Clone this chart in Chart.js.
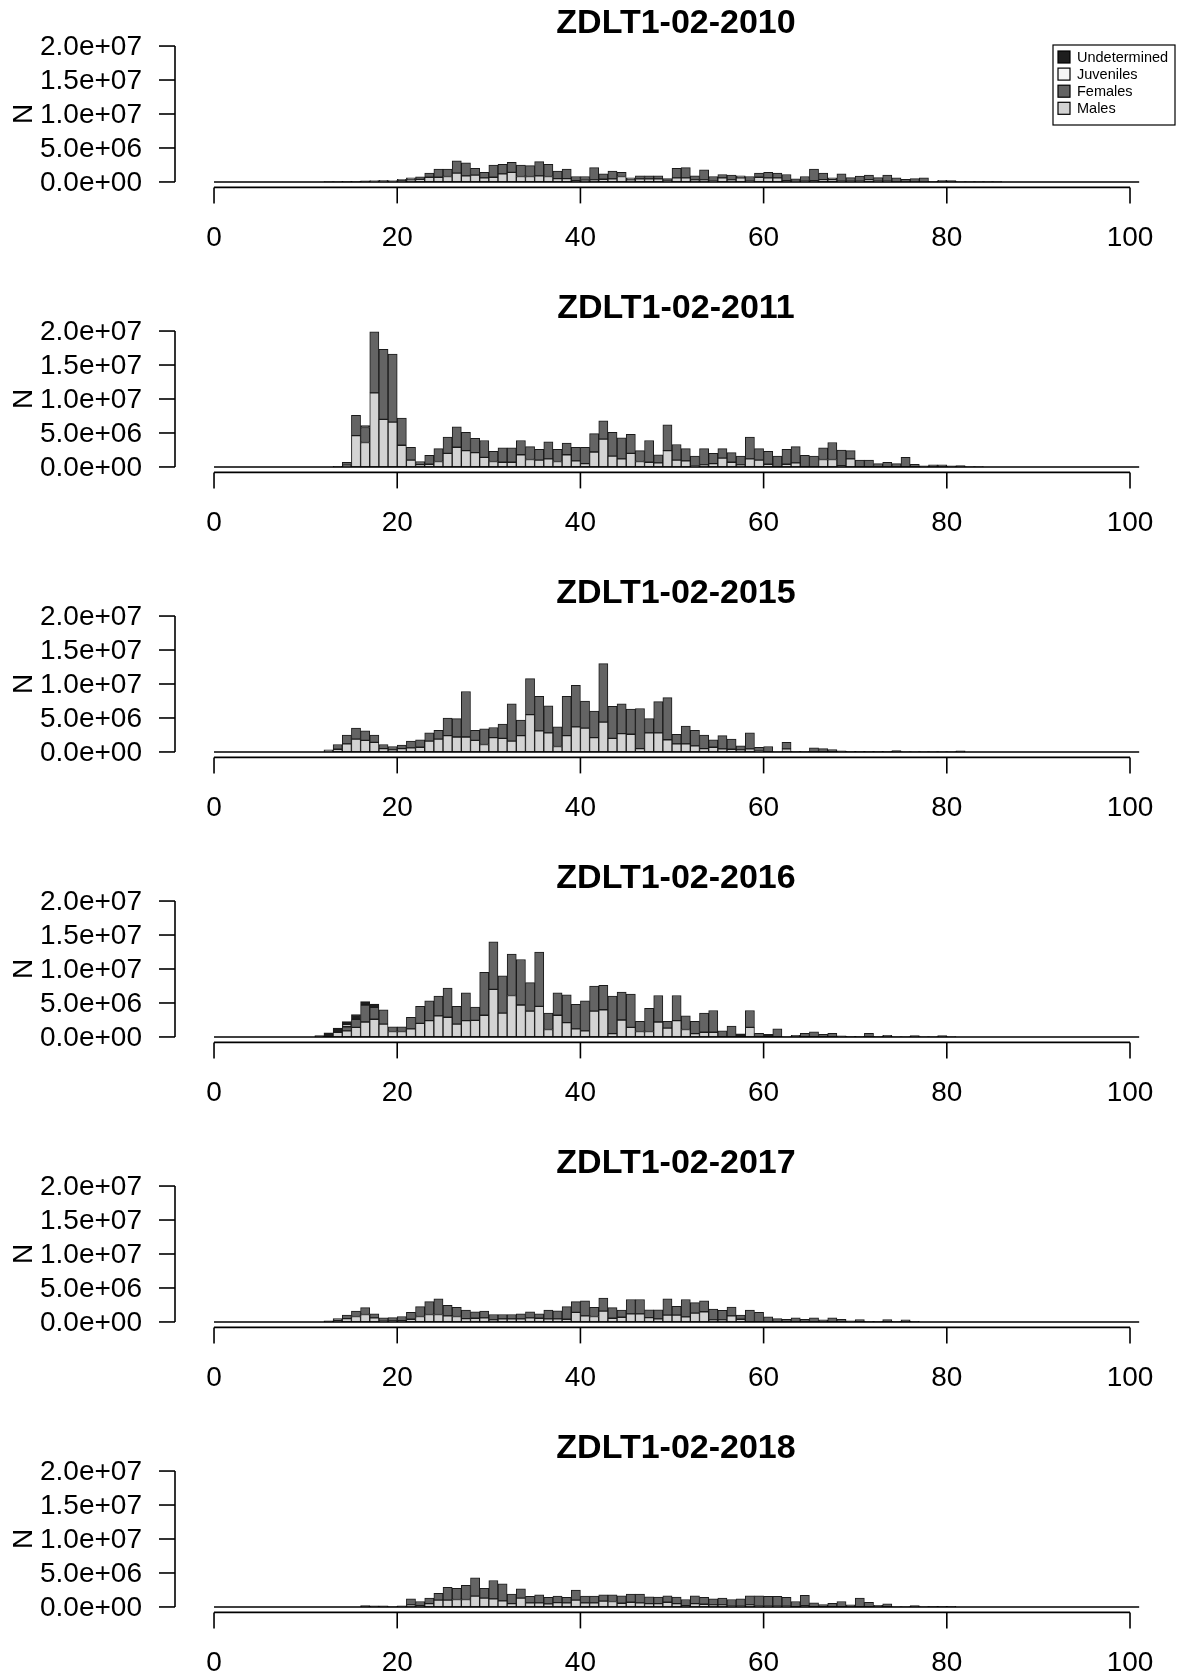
<!DOCTYPE html>
<html>
<head>
<meta charset="utf-8">
<script src="https://cdn.jsdelivr.net/npm/chart.js@4.4.1/dist/chart.umd.min.js"></script>
<style>
    html, body { margin: 0; padding: 0; background: #fff; overflow: hidden; }
    #wrap { width: 1177px; height: 1680px; position: relative; overflow: hidden; }
    .panel { width: 1177px; height: 285px; }
    canvas { display: block; }
</style>
</head>
<body>
<div id="wrap"></div>
<script>
// === length-frequency panels (one stacked barplot per survey year) ===

const FIRST_BIN = 11;   // length class of the first value in each array
const N_BINS = 101;     // classes 0..100, as in the original barplot
const UNIT = 1e6;       // arrays are given in millions

const xTicks = [0, 20, 40, 60, 80, 100];
const yTicks = [0, 5e6, 1e7, 1.5e7, 2e7];
const seriesNames = ['Males', 'Females', 'Juveniles', 'Undetermined'];
const seriesColors = ['#d3d3d3', '#646464', '#f6f6f6', '#1e1e1e'];

// --- 2010 ---
const males2010 = [0,0,0,0.05,0.05,0.05,0.1,0.1,0.1,0.2, 0.3,0.4,0.7,0.7,0.8,1.3,0.9,1.0,0.6,0.7,
    1.2,1.4,0.8,0.8,0.9,0.8,0.5,0.5,0.2,0.25, 0.3,0.4,0.45,0.8,0.3,0.45,0.45,0.45,0.1,0.6,
    0.6,0.3,0.3,0.1,0.6,0.3,0.6,0.1,0.7,0.6, 0.6,0.2,0.1,0.1,0.2,0.35,0.35,0.1,0.1,0.1,
    0.35,0.1,0.1,0.05,0.05,0.05,0.05,0,0.05,0, 0,0,0,0,0];
const females2010 = [0,0.05,0.05,0.05,0.05,0.1,0.1,0.15,0.1,0.2, 0.3,0.35,0.6,1.2,1.1,1.8,1.9,1.0,0.8,1.8,
    1.4,1.5,1.7,1.6,2.1,1.8,1.1,1.4,0.6,0.55, 1.8,0.8,1.15,0.6,0.3,0.45,0.45,0.45,0.4,1.4,
    1.5,0.6,1.5,0.7,0.5,0.7,0.3,0.7,0.6,0.8, 0.7,0.9,0.35,0.7,1.7,0.95,0.25,1.1,0.55,0.75,
    0.65,0.55,0.9,0.55,0.35,0.45,0.55,0.1,0.2,0.2, 0.05,0.05,0.05,0.05,0.05];

// --- 2011 ---
const males2011 = [0,0,0.05,0.25,4.6,3.6,10.9,7.0,6.6,3.2, 1.0,0.35,0.4,0.8,2.0,2.9,2.4,2.1,1.4,0.8,
    0.7,0.7,1.8,1.1,1.0,1.2,0.8,1.8,0.9,0.5, 2.2,4.1,1.6,1.2,2.0,0.8,0.7,0.6,2.4,1.0,
    0.9,0.1,0.3,0.5,1.3,0.7,0.3,1.2,1.0,0.4, 0,0.4,0.6,0,0,1.1,1.1,0.2,1.2,0,
    0,0,0,0,0,0,0,0,0,0, 0,0,0,0,0];
const females2011 = [0,0,0.05,0.45,3.0,2.2,9.0,10.3,10.0,4.0, 1.9,0.45,1.3,1.9,2.4,3.0,2.7,2.1,2.5,1.5,
    2.1,2.1,2.1,1.9,1.6,2.5,1.8,1.7,2.0,2.4, 2.7,2.7,3.5,3.1,2.8,1.6,3.2,1.2,3.8,2.3,
    1.8,1.5,2.4,1.5,1.4,1.4,1.3,3.2,1.7,1.9, 1.6,2.2,2.4,1.7,1.6,1.7,2.5,2.3,1.2,1.0,
    1.0,0.5,0.7,0.5,1.4,0.4,0.15,0.3,0.3,0.15, 0.2,0.05,0.05,0,0];
const undetermined2011 = [0,0,0,0,0,0.3];

// --- 2015 ---
const males2015 = [0,0.1,0.4,1.2,1.9,1.7,1.4,0.5,0.3,0.5, 0.6,0.7,1.6,1.9,2.4,2.2,2.2,1.7,1.1,2.1,
    2.0,1.6,2.4,5.5,3.1,2.8,0.8,2.4,3.7,3.5, 2.1,4.4,2.0,2.7,2.6,0.5,2.8,2.8,1.8,1.2,
    1.2,0.9,0.5,0.7,0.45,0.4,0.3,0.45,0.1,0, 0,0.45,0,0,0,0,0,0,0,0,
    0,0,0,0,0,0,0,0,0,0, 0,0,0,0,0];
const females2015 = [0,0.2,0.7,1.3,1.6,1.4,1.1,0.6,0.5,0.5, 1.0,1.1,1.2,1.3,2.6,2.7,6.7,1.5,2.3,1.5,
    2.1,5.5,2.3,5.3,5.1,4.0,2.9,5.8,6.1,4.0, 3.9,8.6,4.7,4.4,3.7,5.9,2.1,4.6,6.2,1.4,
    2.6,2.3,2.0,1.1,1.95,1.5,0.6,2.35,0.6,0.8, 0.05,0.95,0.1,0.1,0.6,0.5,0.35,0.15,0.1,0.1,
    0.1,0.1,0.1,0.2,0.05,0.05,0.05,0.05,0.05,0.05, 0.15,0,0,0,0];

// --- 2016 ---
const males2016 = [0,0,0.7,0.9,1.4,2.2,2.6,1.9,0.8,0.8, 1.2,2.0,2.4,3.1,2.9,1.9,2.4,2.45,3.2,7.0,
    3.5,6.1,4.7,3.8,4.5,1.1,3.2,2.1,1.2,0.9, 3.8,4.0,0.5,2.5,1.4,0.8,0.8,2.2,1.3,2.4,
    1.1,0.5,0.7,0.7,0,0,0,1.4,0,0, 0,0,0,0,0,0,0,0,0,0,
    0,0,0,0,0,0,0,0,0,0, 0,0,0,0,0];
const females2016 = [0.2,0,0,0.6,1.2,2.5,1.75,2.1,0.7,0.7, 1.7,2.5,2.9,2.9,4.3,2.6,4.1,1.95,6.3,7.0,
    5.5,6.1,6.7,4.2,8.0,2.4,3.3,4.1,3.6,4.4, 3.7,3.6,5.5,4.1,4.9,1.5,3.4,3.9,1.0,3.7,
    2.0,1.8,2.8,3.2,0.9,1.6,0,2.5,0.55,0, 1.2,0.05,0.25,0.55,0.75,0.4,0.55,0.15,0.1,0.1,
    0.55,0.1,0.25,0.05,0.05,0.2,0.05,0.05,0.2,0.05, 0,0,0,0,0];
const juveniles2016 = [0,0,0,0.3];
const undetermined2016 = [0,0.6,0.6,0.45,0.7,0.5,0.5,0,0,0, 0,0,0,0,0,0,0,0,0,0,
    0,0,0,0,0,0,0,0,0,0, 0,0,0,0,0,0,0,0,0,0,
    0,0,0,0,0,0,0.45,0,0,0.4];

// --- 2017 ---
const males2017 = [0,0,0.2,0.5,0.8,1.1,0.6,0.1,0.15,0.2, 0.4,0.8,1.1,1.1,0.9,0.8,0.5,0.55,0.6,0.3,
    0.45,0.45,0.45,0.6,0.55,0.45,0.45,0.4,1.4,0.9, 0.8,1.6,0.55,0.7,1.2,1.2,0.65,0.45,1.0,1.0,
    0.75,1.3,1.5,0.3,0.3,0.9,0.4,0,0,0, 0,0,0,0,0,0,0,0,0,0,
    0,0,0,0,0,0,0,0,0,0, 0,0,0,0,0];
const females2017 = [0,0.15,0.3,0.5,0.8,1.0,0.6,0.5,0.5,0.6, 1.0,1.45,1.9,2.3,1.55,1.35,1.25,0.95,1.0,0.8,
    0.65,0.65,0.75,0.9,0.65,1.3,1.2,1.85,1.6,2.2, 1.35,1.9,1.55,1.05,2.1,2.1,1.15,1.35,2.4,1.3,
    2.55,1.55,1.6,1.6,1.4,1.3,0.6,1.75,1.4,0.75, 0.5,0.4,0.6,0.4,0.6,0.3,0.6,0.4,0.15,0.35,
    0.1,0.1,0.35,0.1,0.3,0.1,0,0,0,0, 0,0,0,0,0];

// --- 2018 ---
const males2018 = [0,0,0,0,0,0,0,0,0,0, 0.3,0.2,0.5,1.0,1.0,1.1,1.1,1.6,1.3,1.2,
    0.9,0.5,1.3,0.6,0.6,0.45,0.65,0.6,1.0,0.6, 0.6,0.85,0.8,0.55,0.7,0.6,0.5,0.5,0.7,0.5,
    0.2,0.5,0.4,0.3,0.3,0.1,0.1,0.3,0.1,0.1, 0.1,0.1,0,0.2,0,0,0,0,0,0,
    0,0,0,0,0,0,0,0,0,0, 0,0,0,0,0];
const females2018 = [0,0,0,0,0,0.2,0.15,0.15,0.05,0.15, 0.9,0.6,0.8,1.0,1.9,1.65,2.1,2.7,1.45,2.7,
    2.5,1.4,1.35,0.95,1.2,0.95,0.95,0.8,1.5,1.0, 1.0,0.95,1.0,1.1,1.2,1.3,1.0,0.95,0.95,0.95,
    0.9,1.15,1.0,0.9,1.0,1.0,1.1,1.35,1.55,1.45, 1.45,1.3,0.8,1.5,0.6,0.35,0.55,0.8,0.3,1.3,
    0.7,0.25,0.45,0.05,0.05,0.2,0.05,0.1,0.1,0.1, 0,0,0,0,0];

const panels = [
    { title: 'ZDLT1-02-2010', series: [males2010, females2010, [], []], legend: true },
    { title: 'ZDLT1-02-2011', series: [males2011, females2011, [], undetermined2011] },
    { title: 'ZDLT1-02-2015', series: [males2015, females2015, [], []] },
    { title: 'ZDLT1-02-2016', series: [males2016, females2016, juveniles2016, undetermined2016] },
    { title: 'ZDLT1-02-2017', series: [males2017, females2017, [], []] },
    { title: 'ZDLT1-02-2018', series: [males2018, females2018, [], []] },
];

const FONT = "'Liberation Sans', Arial, sans-serif";

// R style number label, e.g. 1.5e+07
function sciLabel(v) {
    if (v === 0) return '0.0e+00';
    const e = Math.floor(Math.log10(v) + 1e-9);
    const m = v / Math.pow(10, e);
    return m.toFixed(1) + 'e+' + String(e).padStart(2, '0');
}

// one point per length class, placed on the centre of the class
function binData(values) {
    const out = [];
    for (let k = 0; k < N_BINS; k++) {
        const v = values[k - FIRST_BIN];
        out.push({ x: k + 0.5, y: (v || 0) * UNIT });
    }
    return out;
}

function seg(ctx, x1, y1, x2, y2) {
    ctx.beginPath();
    ctx.moveTo(x1, y1);
    ctx.lineTo(x2, y2);
    ctx.stroke();
}

// axes, title and legend drawn the way R's barplot/axis do
const rAxes = {
    id: 'rAxes',
    afterDraw(chart, args, opts) {
        const { ctx, chartArea: area, scales: { x, y } } = chart;
        ctx.save();
        ctx.strokeStyle = '#000';
        ctx.fillStyle = '#000';
        ctx.lineWidth = 1.6;

        // 1. outline of the empty classes (zero line)
        const y0 = y.getPixelForValue(0);
        seg(ctx, x.getPixelForValue(0), y0, x.getPixelForValue(N_BINS), y0);

        // 2. x axis
        const ax = area.bottom;
        seg(ctx, x.getPixelForValue(xTicks[0]), ax, x.getPixelForValue(xTicks[xTicks.length - 1]), ax);
        ctx.font = '28px ' + FONT;
        ctx.textAlign = 'center';
        ctx.textBaseline = 'middle';
        xTicks.forEach(t => {
            const px = x.getPixelForValue(t);
            seg(ctx, px, ax, px, ax + 16);
            ctx.fillText(String(t), px, ax + 51);
        });

        // 3. y axis
        const ay = area.left;
        seg(ctx, ay, y.getPixelForValue(yTicks[0]), ay, y.getPixelForValue(yTicks[yTicks.length - 1]));
        ctx.textAlign = 'right';
        yTicks.forEach(t => {
            const py = y.getPixelForValue(t);
            seg(ctx, ay - 16, py, ay, py);
            ctx.fillText(sciLabel(t), ay - 33, py + 1);
        });

        // 4. axis title "N"
        ctx.save();
        ctx.translate(24, (area.top + area.bottom) / 2);
        ctx.rotate(-Math.PI / 2);
        ctx.textAlign = 'center';
        ctx.fillText('N', 0, 0);
        ctx.restore();

        // 5. main title
        ctx.font = 'bold 34px ' + FONT;
        ctx.textAlign = 'center';
        ctx.fillText(opts.title, (area.left + area.right) / 2, 24);

        // 6. legend (first panel only), reversed like barplot
        if (opts.legend) {
            const bx = 1053, by = 45, bw = 122, bh = 80;
            ctx.lineWidth = 1.2;
            ctx.strokeRect(bx, by, bw, bh);
            ctx.font = '14.5px ' + FONT;
            ctx.textAlign = 'left';
            const order = [3, 2, 1, 0];
            order.forEach((s, i) => {
                const cy = by + 12 + i * 17.1;
                ctx.fillStyle = seriesColors[s];
                ctx.fillRect(bx + 5, cy - 6, 12, 12);
                ctx.strokeRect(bx + 5, cy - 6, 12, 12);
                ctx.fillStyle = '#000';
                ctx.fillText(seriesNames[s], bx + 24, cy + 1);
            });
        }
        ctx.restore();
    }
};

const wrap = document.getElementById('wrap');

panels.forEach(p => {
    const div = document.createElement('div');
    div.className = 'panel';
    const canvas = document.createElement('canvas');
    canvas.width = 1177;
    canvas.height = 285;
    div.appendChild(canvas);
    wrap.appendChild(div);

    const datasets = seriesNames.map((name, i) => ({
        label: name,
        data: binData(p.series[i]),
        backgroundColor: seriesColors[i],
        borderColor: '#1a1a1a',
        borderWidth: 1,
        borderSkipped: false,
        barPercentage: 1,
        categoryPercentage: 1
    }));

    new Chart(canvas, {
        type: 'bar',
        data: { datasets: datasets },
        options: {
            responsive: false,
            animation: false,
            layout: { padding: { left: 175, right: 0, top: 40.6, bottom: 97.6 } },
            plugins: {
                legend: { display: false },
                title: { display: false },
                tooltip: { enabled: false },
                rAxes: { title: p.title, legend: !!p.legend }
            },
            scales: {
                x: {
                    type: 'linear', stacked: true, min: -4.26, max: 105.13,
                    offset: false, grid: { offset: false }, display: false
                },
                y: { stacked: true, min: -0.8e6, max: 20.8e6, display: false }
            }
        },
        plugins: [rAxes]
    });
});
</script>
</body>
</html>
